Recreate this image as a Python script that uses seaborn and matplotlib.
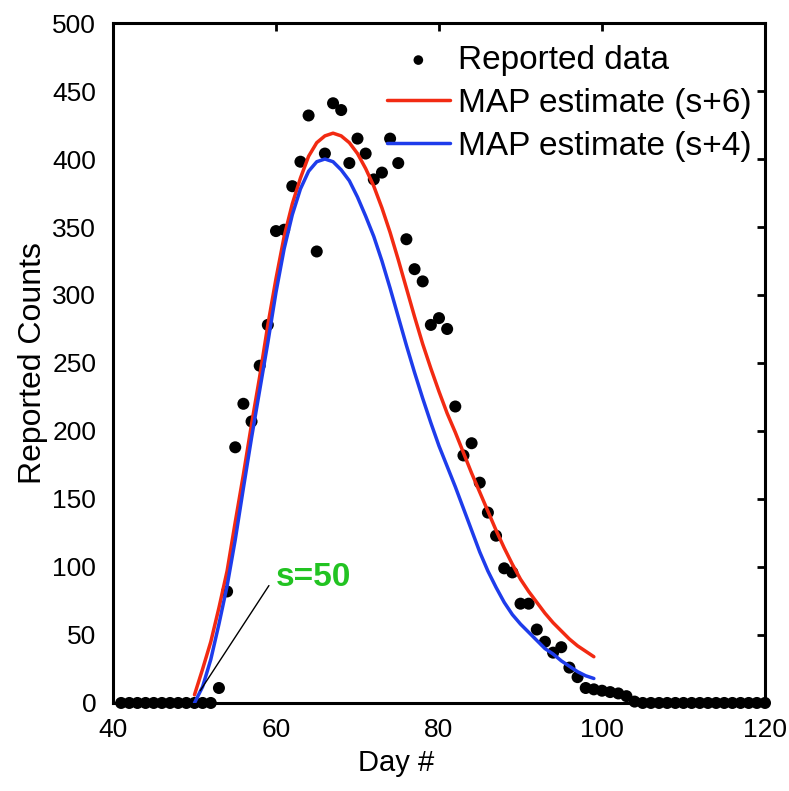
import numpy as np
import pandas as pd
import seaborn as sns
import matplotlib.pyplot as plt

# reported daily counts, day 41 .. 120
days = list(range(41, 121))
counts = ([0] * 12 +
          [11, 82, 188, 220, 207, 248, 278, 347, 348, 380,
           398, 432, 332, 404, 441, 436, 397, 415, 404, 385,
           390, 415, 397, 341, 319, 310, 278, 283, 275, 218,
           182, 191, 162, 140, 123, 99, 96, 73, 73, 54,
           45, 37, 41, 26, 19, 11, 10, 9, 8, 7,
           5, 1] + [0] * 16)

# MAP estimate curves, day 50 .. 99
fit_days = list(range(50, 100))
map_s6 = [6, 25, 45, 70, 97, 133, 168, 205, 240, 278,
          312, 343, 367, 386, 402, 412, 417, 419, 417, 412,
          404, 393, 380, 364, 346, 326, 305, 284, 264, 246,
          229, 213, 199, 184, 169, 155, 141, 127, 114, 102,
          91, 82, 74, 66, 59, 53, 47, 42, 38, 34]
map_s4 = [0, 12, 32, 58, 86, 120, 158, 195, 230, 265,
          302, 334, 359, 378, 391, 398, 400, 398, 392, 384,
          372, 358, 343, 325, 305, 284, 263, 243, 224, 206,
          189, 174, 159, 143, 127, 111, 97, 85, 74, 65,
          58, 52, 46, 40, 36, 31, 27, 23, 20, 18]

sns.set_style("white")
plt.rcParams["font.family"] = ["Liberation Sans", "DejaVu Sans"]
plt.rcParams["text.color"] = "black"
plt.rcParams["axes.labelcolor"] = "black"
plt.rcParams["xtick.color"] = "black"
plt.rcParams["ytick.color"] = "black"

red = "#F22A12"
blue = "#1E3CEB"

fig = plt.figure(figsize=(7.89, 7.91), dpi=100)
ax = fig.add_axes([0.1432, 0.1113, 0.8264, 0.8596])

sns.scatterplot(x=days, y=counts, ax=ax, color="black", s=75, edgecolor="none",
                clip_on=False, zorder=2, label="Reported data")
sns.lineplot(x=fit_days, y=map_s6, ax=ax, color=red, lw=2.5, zorder=3,
             label="MAP estimate (s+6)")
sns.lineplot(x=fit_days, y=map_s4, ax=ax, color=blue, lw=2.5, zorder=3,
             label="MAP estimate (s+4)")

ax.annotate("s=50", xy=(50.7, 9), xytext=(60.0, 92), color="#22C322",
            fontsize=24, fontweight="bold", va="center", ha="left",
            arrowprops=dict(arrowstyle="-", color="black", lw=1.0,
                            relpos=(0, 0.6), shrinkA=5, shrinkB=0))

ax.set_xlim(40, 120)
ax.set_ylim(0, 500)
ax.set_xticks(range(40, 121, 20))
ax.set_yticks(range(0, 501, 50))
ax.set_xlabel("Day #", fontsize=21)
ax.set_ylabel("Reported Counts", fontsize=23)
ax.xaxis.set_label_coords(0.434, -0.068)
ax.yaxis.set_label_coords(-0.1, 0.5)
ax.tick_params(direction="in", length=6, width=2, labelsize=19,
               top=True, right=True)
ax.tick_params(axis="x", pad=11)
ax.tick_params(axis="y", pad=12)
for sp in ax.spines.values():
    sp.set_linewidth(2.2)
    sp.set_color("black")

h, l = ax.get_legend_handles_labels()
order = [l.index("Reported data"), l.index("MAP estimate (s+6)"),
         l.index("MAP estimate (s+4)")]
ax.legend([h[i] for i in order], [l[i] for i in order], loc="upper right",
          bbox_to_anchor=(1.003, 0.99), frameon=False, fontsize=24,
          handlelength=1.9, labelspacing=0.36, handletextpad=0.25,
          borderaxespad=0.0, borderpad=0.45, markerscale=0.8)

fig.savefig("out.png", dpi=100)
